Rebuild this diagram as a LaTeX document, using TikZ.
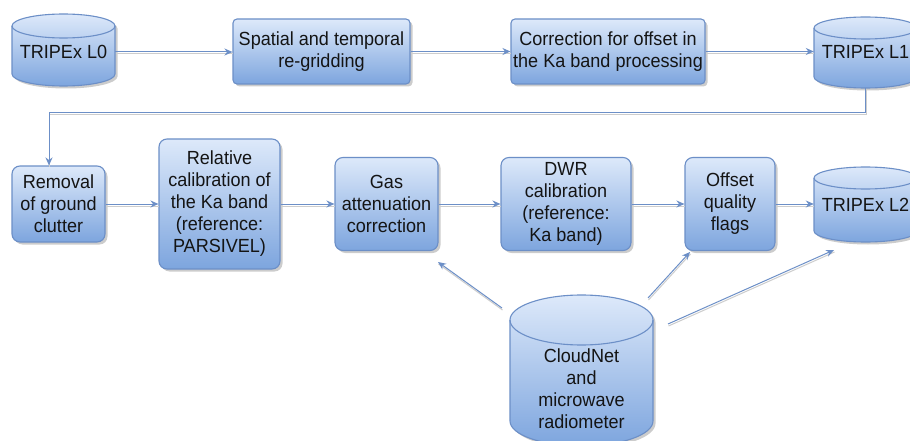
\documentclass[tikz,border=0pt]{standalone}
\usepackage{fontspec}
\setmainfont{Liberation Sans}[FakeStretch=0.95]
\usetikzlibrary{arrows.meta,shadows}
\definecolor{boxtop}{RGB}{221,233,250}
\definecolor{boxbot}{RGB}{125,165,222}
\definecolor{boxline}{RGB}{108,143,199}
\definecolor{arrline}{RGB}{108,143,199}
\definecolor{arrshadow}{RGB}{205,205,205}
\definecolor{txt}{RGB}{20,20,20}
\newcommand\mycyl[5]{%
  \pgfmathsetmacro\myrx{(#2-#1)/2}%
  \path[cylfill] (#1,#3+#5) -- (#1,#4-#5)
     arc[start angle=180,end angle=360,x radius=\myrx pt,y radius=#5pt]
     -- (#2,#3+#5)
     arc[start angle=0,end angle=180,x radius=\myrx pt,y radius=#5pt] -- cycle;
  \draw[cylline] (#1,#3+#5) arc[start angle=180,end angle=360,x radius=\myrx pt,y radius=#5pt];
}
\begin{document}
\begin{tikzpicture}[x=1pt,y=-1pt,
  font=\fontsize{19}{22}\selectfont, text=txt,
  shad/.style={drop shadow={shadow xshift=2.5pt,shadow yshift=-2.5pt,fill=black,opacity=0.2}},
  procbox/.style={draw=boxline,line width=1.1pt,top color=boxtop,bottom color=boxbot,
     shad,rounded corners=#1,align=center,inner sep=1pt},
  procbox/.default=4pt,
  cylfill/.style={draw=boxline,line width=1.1pt,top color=boxtop,bottom color=boxbot,shad},
  cylline/.style={draw=boxline,line width=1.1pt},
  cyltext/.style={inner sep=0pt,align=center},
  arr/.style={draw=arrline,line width=1pt,-{Stealth[length=8pt,width=7pt]},
     preaction={draw=arrshadow,line width=1pt,-,transform canvas={shift={(0.5pt,-2pt)}}}}
]
\clip (0,0) rectangle (910,441);
\fill[white] (0,0) rectangle (910,441);

% cylinders
\mycyl{12}{115}{14}{86}{12}
\mycyl{814}{917}{17}{88}{11}
\mycyl{814}{917}{167}{242}{11}
\mycyl{510}{653}{295}{446}{25}

\node[cyltext,minimum width=103pt,minimum height=72pt] (l0) at (63.5,52) {TRIPEx L0};
\node[cyltext,minimum width=103pt,minimum height=72pt] (l1) at (865.5,52) {TRIPEx L1};
\node[cyltext,minimum width=103pt,minimum height=75pt] (l2) at (865.5,204.5) {TRIPEx L2};
\node[cyltext,minimum width=143pt] (cn) at (581.5,389) {CloudNet\\and\\microwave\\radiometer};

% top row boxes
\node[procbox,minimum width=177pt,minimum height=65pt] (sp) at (321.5,51.5)
  {Spatial and temporal\\re-gridding};
\node[procbox,minimum width=194pt,minimum height=65pt] (co) at (608,51.5)
  {Correction for offset in\\the Ka band processing};

% second row boxes
\node[procbox=8pt,minimum width=93pt,minimum height=76pt] (rm) at (58.5,204)
  {Removal\\of ground\\clutter};
\node[procbox=8pt,minimum width=121pt,minimum height=130pt] (rc) at (219.5,204)
  {Relative\\calibration of\\the Ka band\\(reference:\\PARSIVEL)};
\node[procbox=8pt,minimum width=103pt,minimum height=93pt] (ga) at (386.5,204)
  {Gas\\attenuation\\correction};
\node[procbox=8pt,minimum width=130pt,minimum height=93pt] (dw) at (566,204)
  {DWR\\calibration\\(reference:\\Ka band)};
\node[procbox=8pt,minimum width=90pt,minimum height=93pt] (of) at (730,204)
  {Offset\\quality\\flags};

% connectors
\coordinate (bend) at (49,113);
\draw[arr] (l0.east) -- (l0.east -| sp.west);
\draw[arr] (sp.east) -- (co.west);
\draw[arr] (co.east) -- (co.east -| l1.west);
\draw[arr] (l1.south) |- (bend) -- (bend |- rm.north);
\draw[arr] (rm.east) -- (rc.west);
\draw[arr] (rc.east) -- (ga.west);
\draw[arr] (ga.east) -- (dw.west);
\draw[arr] (dw.east) -- (of.west);
\draw[arr] (of.east) -- (of.east -| l2.west);

\coordinate (s1) at (502,308);
\coordinate (e1) at (438,262);
\coordinate (s2) at (648,298);
\coordinate (e2) at (690,252);
\coordinate (s3) at (668,324);
\coordinate (e3) at (834,250);
\draw[arr] (s1) -- (e1);
\draw[arr] (s2) -- (e2);
\draw[arr] (s3) -- (e3);
\end{tikzpicture}
\end{document}
